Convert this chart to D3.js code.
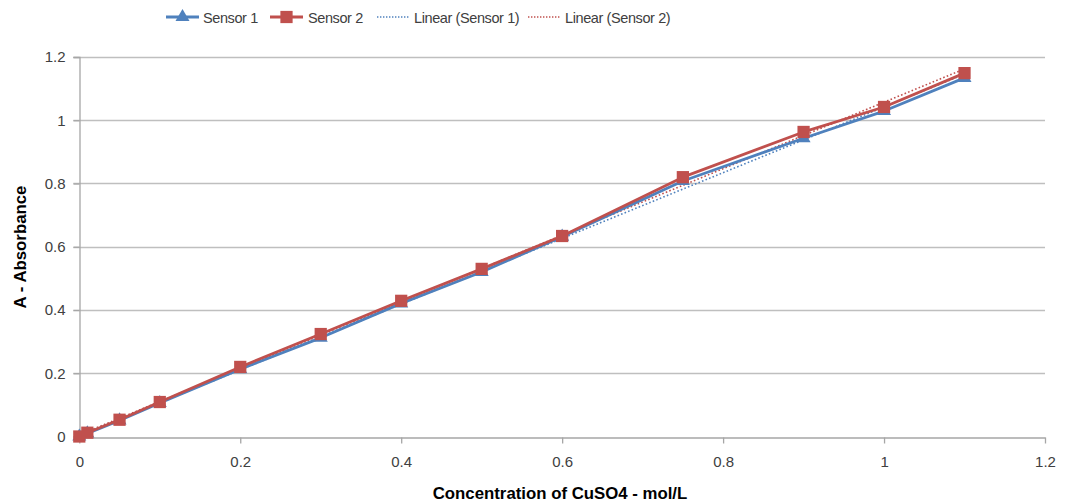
<!DOCTYPE html>
<html>
<head>
<meta charset="utf-8">
<script src="https://cdn.jsdelivr.net/npm/d3@7"></script>
<style>
  html, body { margin: 0; padding: 0; background: #fff; }
  svg { display: block; }
  text { font-family: "Liberation Sans", Arial, sans-serif; fill: #404040; }
</style>
</head>
<body>
<svg id="chart" width="1065" height="503"></svg>
<script>
// Concentration of CuSO4 (mol/L)
const concentration = [0, 0.01, 0.05, 0.1, 0.2, 0.3, 0.4, 0.5, 0.6, 0.75, 0.9, 1.0, 1.1];
// Measured absorbance
const sensor1 = [0, 0.010, 0.051, 0.106, 0.213, 0.312, 0.421, 0.520, 0.632, 0.808, 0.943, 1.029, 1.134];
const sensor2 = [0, 0.012, 0.053, 0.109, 0.220, 0.324, 0.429, 0.530, 0.634, 0.820, 0.963, 1.042, 1.149];
const xTicks = [0, 0.2, 0.4, 0.6, 0.8, 1, 1.2];
const yTicks = [0, 0.2, 0.4, 0.6, 0.8, 1, 1.2];
const seriesNames = ["Sensor 1", "Sensor 2"];
const colors = ["#4F81BD", "#C0504D"];

const FONT = "'Liberation Sans', Arial, sans-serif";
const svg = d3.select("#chart");
const x = d3.scaleLinear().domain([0, 1.2]).range([79.3, 1045]);
const y = d3.scaleLinear().domain([0, 1.2]).range([436.5, 57]);

// Gridlines
svg.append("g")
  .selectAll("line").data(yTicks.slice(1)).join("line")
  .attr("x1", x(0) - 6).attr("x2", x(1.2))
  .attr("y1", d => Math.round(y(d)) + 0.5).attr("y2", d => Math.round(y(d)) + 0.5)
  .attr("stroke", "#BFBFBF").attr("stroke-width", 1.3);

// Y axis
const yAxis = svg.append("g").attr("transform", `translate(${Math.round(x(0)) + 0.5},0)`)
  .call(d3.axisLeft(y).tickValues(yTicks).tickSize(6).tickFormat(d3.format("~g")));
yAxis.select(".domain").attr("stroke", "#A6A6A6").attr("stroke-width", 1.3);
yAxis.selectAll(".tick line").attr("stroke", "#A6A6A6").attr("stroke-width", 1.3);
yAxis.selectAll(".tick text").attr("x", -14).attr("font-size", 15).attr("fill", "#404040")
  .style("font-family", FONT);

// X axis
const xAxis = svg.append("g").attr("transform", `translate(0,${Math.round(y(0)) + 0.5})`)
  .call(d3.axisBottom(x).tickValues(xTicks).tickSize(6).tickSizeOuter(0).tickFormat(d3.format("~g")));
xAxis.select(".domain").attr("stroke", "#A6A6A6").attr("stroke-width", 1.3);
xAxis.selectAll(".tick line").attr("stroke", "#A6A6A6").attr("stroke-width", 1.3);
xAxis.selectAll(".tick text").attr("y", 19).attr("font-size", 15).attr("fill", "#404040")
  .style("font-family", FONT);

// Axis titles
svg.append("text").attr("x", 560).attr("y", 499).attr("text-anchor", "middle")
  .attr("font-size", 16.8).attr("font-weight", "bold")
  .style("fill", "#000").text("Concentration of CuSO4 - mol/L");
svg.append("text").attr("transform", "translate(26,247) rotate(-90)").attr("text-anchor", "middle")
  .attr("font-size", 16.8).attr("font-weight", "bold").style("fill", "#000").text("A - Absorbance");

// Least-squares linear trendlines
function linearFit(xs, ys) {
  const n = xs.length;
  const mx = d3.mean(xs), my = d3.mean(ys);
  let sxy = 0, sxx = 0;
  for (let i = 0; i < n; i++) { sxy += (xs[i] - mx) * (ys[i] - my); sxx += (xs[i] - mx) ** 2; }
  const m = sxy / sxx;
  return { m, b: my - m * mx };
}
const data = [sensor1, sensor2];
const xMin = d3.min(concentration), xMax = d3.max(concentration);
data.forEach((vals, i) => {
  const f = linearFit(concentration, vals);
  svg.append("line")
    .attr("x1", x(xMin)).attr("y1", y(f.m * xMin + f.b))
    .attr("x2", x(xMax)).attr("y2", y(f.m * xMax + f.b))
    .attr("stroke", colors[i]).attr("stroke-width", 1.6)
    .attr("stroke-dasharray", "1.6 2.2");
});

// Series lines and markers
const line = d3.line().x((d, i) => x(concentration[i])).y(d => y(d));
const triangle = d3.symbol().type(d3.symbolTriangle).size(85);
const square = d3.symbol().type(d3.symbolSquare).size(150);

data.forEach((vals, i) => {
  svg.append("path").datum(vals).attr("d", line)
    .attr("fill", "none").attr("stroke", colors[i]).attr("stroke-width", 2.8)
    .attr("stroke-linejoin", "round");
  svg.append("g").selectAll("path").data(vals).join("path")
    .attr("transform", (d, j) => `translate(${x(concentration[j])},${y(d)})`)
    .attr("d", i === 0 ? triangle : square)
    .attr("fill", colors[i]);
});

// Legend
const legend = svg.append("g").attr("transform", "translate(0,17)");
const legendItems = [
  { label: "Sensor 1", x0: 166, tx: 203, color: colors[0], marker: triangle, dashed: false },
  { label: "Sensor 2", x0: 270, tx: 308, color: colors[1], marker: square, dashed: false },
  { label: "Linear (Sensor 1)", x0: 377, tx: 414, color: colors[0], marker: null, dashed: true },
  { label: "Linear (Sensor 2)", x0: 528, tx: 565, color: colors[1], marker: null, dashed: true }
];
legendItems.forEach(it => {
  legend.append("line").attr("x1", it.x0).attr("x2", it.x0 + 33).attr("y1", 0).attr("y2", 0)
    .attr("stroke", it.color)
    .attr("stroke-width", it.dashed ? 1.4 : 2.8)
    .attr("stroke-dasharray", it.dashed ? "1.4 1.6" : null);
  if (it.marker) {
    legend.append("path").attr("transform", `translate(${it.x0 + 16.5},0)`)
      .attr("d", it.marker).attr("fill", it.color);
  }
  legend.append("text").attr("x", it.tx).attr("y", 5.5).attr("font-size", 14.5)
    .attr("letter-spacing", -0.4)
    .style("fill", "#404040").text(it.label);
});
</script>
</body>
</html>
